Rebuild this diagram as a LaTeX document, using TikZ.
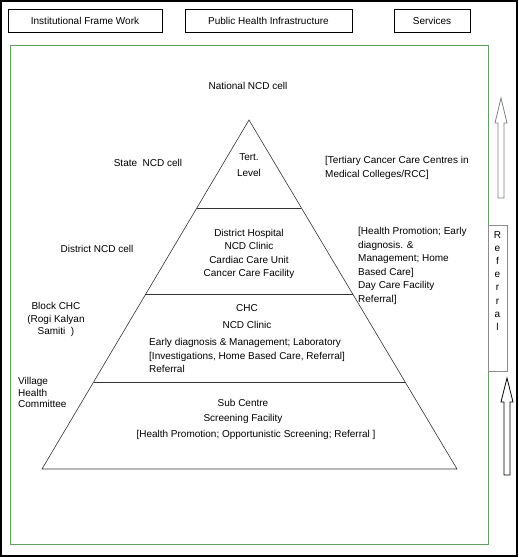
\documentclass[tikz,border=0pt]{standalone}
\usepackage{fontspec}
\setmainfont{Liberation Sans}
\usetikzlibrary{calc}
\definecolor{framegreen}{RGB}{98,160,98}

\begin{document}
\begin{tikzpicture}[x=1pt, y=-1pt, font=\fontsize{10}{13.6}\selectfont]
    \tikzstyle{head} = [
        draw=black,
        line width=0.9pt,
        minimum height=23pt,
        inner sep=0pt
    ]
    \tikzstyle{lbl} = [inner sep=0pt, align=center]
    \tikzstyle{lleft} = [inner sep=0pt, align=left, anchor=west]
    \tikzstyle{tier} = [draw=black!80, line width=0.6pt]
    \tikzstyle{hollow} = [line width=0.8pt, fill=white]

    \useasboundingbox (0,0) rectangle (519,557);
    \draw[line width=1.2pt] (1,1) rectangle (517,556);
    \draw[framegreen, line width=0.7pt] (10,45) rectangle (488,544);

    % column heads
    \node[head, minimum width=154pt] (inst) at (85,20.5) {Institutional Frame Work};
    \node[head, minimum width=167pt] (phi) at (268.5,20.5) {Public Health Infrastructure};
    \node[head, minimum width=76pt] (serv) at (432,20.5) {Services};

    % pyramid
    \coordinate (apex) at (249,120);
    \coordinate (bl) at (42,469);
    \coordinate (br) at (457,469);
    \draw[tier] (apex) -- (bl) -- (br) -- cycle;
    \foreach \t in {0.252, 0.501, 0.751}
        \draw[tier, line width=0.9pt] ($(apex)!\t!(bl)$) -- ($(apex)!\t!(br)$);

    % levels inside the pyramid
    \node[lbl, font=\fontsize{10}{16}\selectfont] (tert) at (249,165) {Tert.\\Level};
    \node[lbl] (dh) at (249,254) {District Hospital\\NCD Clinic\\Cardiac Care Unit\\Cancer Care Facility};
    \node[lbl, font=\fontsize{10}{17}\selectfont] (chc) at (247,316.5) {CHC\\NCD Clinic};
    \node[lleft, font=\fontsize{10}{13.5}\selectfont] (chcserv) at (149,355.5)
        {Early diagnosis \& Management; Laboratory\\{[}Investigations, Home Based Care, Referral{]}\\Referral};
    \node[lbl, font=\fontsize{10}{15}\selectfont] (sc) at (243,411.5) {Sub Centre\\Screening Facility};
    \node[lbl] (scserv) at (256,435) {[Health Promotion; Opportunistic Screening; Referral ]};

    % institutional frame work
    \node[lbl] (national) at (248,86) {National NCD cell};
    \node[lbl] (state) at (148,163) {State\ \ NCD cell};
    \node[lbl] (district) at (97,249) {District NCD cell};
    \node[lbl, font=\fontsize{10}{12.5}\selectfont] (block) at (56,319.5) {Block CHC\\(Rogi Kalyan\\Samiti\ \ )};
    \node[lleft, font=\fontsize{10}{11.5}\selectfont] (village) at (18,392.5) {Village\\Health\\Committee};

    % services
    \node[lleft, font=\fontsize{10}{14}\selectfont] (tertserv) at (325,168)
        {[Tertiary Cancer Care Centres in\\Medical Colleges/RCC]};
    \node[lleft] (dhserv) at (358,266)
        {[Health Promotion; Early\\diagnosis. \&\\Management; Home\\Based Care]\\Day Care Facility\\Referral]};

    % referral
    \node[draw=black!45, fill=white, line width=0.9pt, minimum width=19pt, minimum height=146pt,
        inner sep=0pt] (refbox) at (497.5,298) {};
    \node[lbl, font=\fontsize{10}{13.1}\selectfont] (ref) at (497.5,281) {R\\e\\f\\e\\r\\r\\a\\l};
    \draw[hollow, draw=black!50] (501,98) -- (507,123) -- (504,123) -- (504,198)
        -- (498,198) -- (498,123) -- (495,123) -- cycle;
    \draw[hollow, draw=black] (507,378) -- (513,402) -- (510,402) -- (510,475)
        -- (504,475) -- (504,402) -- (501,402) -- cycle;
\end{tikzpicture}
\end{document}
